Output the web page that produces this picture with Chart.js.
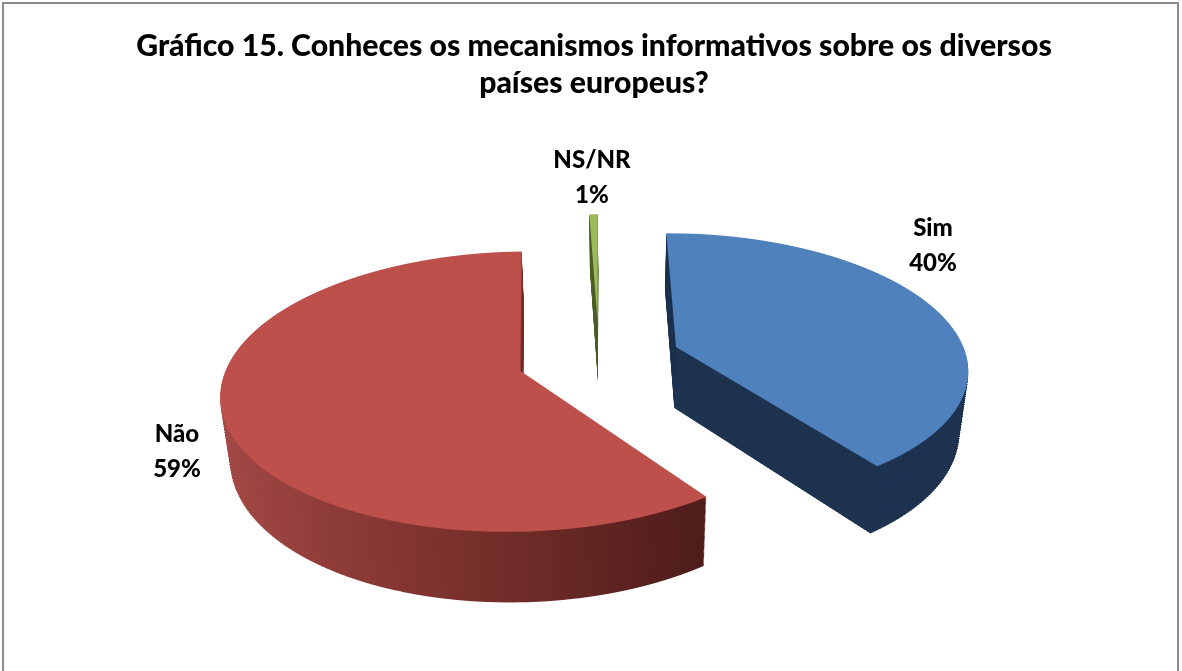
<!DOCTYPE html>
<html>
<head>
<meta charset="utf-8">
<title>Gráfico 15</title>
<script src="https://cdn.jsdelivr.net/npm/chart.js@4/dist/chart.umd.min.js"></script>
<style>
html, body { margin: 0; padding: 0; background: #fff; }
canvas { display: block; }
</style>
</head>
<body>
<canvas id="chart" width="1182" height="671"></canvas>
<script>
const titleLines = ["Gráfico 15. Conheces os mecanismos informativos sobre os diversos", "países europeus?"];
const categories = ["Sim", "Não", "NS/NR"];
// slice sizes, the printed labels are rounded
const sliceValues = [40, 59.45, 0.55];
const percentLabels = ["40%", "59%", "1%"];
const topColors = ["#4f81bd", "#be504c", "#9bbb59"];
const labelSpots = [[933, 246], [177, 452], [592, 178]];

// ground plane -> screen: pie lies flat, then gets a simple perspective
const view = { cx: 599, cy: 358.5, k: 0.459, p: 0.0005, radius: 291, explode: 82 };
// side walls: how far the bottom face moves from the top face
const wall = { depth: 61, grow: 0.052, y0: 347, vx: 610, shrink: 0.026 };

function wallColor(ctx, arc, i) {
  if (i === 0) return "#1e3350";
  if (i === 2) return "#4d5f2a";
  const g = ctx.createLinearGradient(arc.x - 292, 0, arc.x + 190, 0);
  g.addColorStop(0, "#a64a47");
  g.addColorStop(0.45, "#80342f");
  g.addColorStop(1, "#4a1a18");
  return g;
}

function drawLayer(ctx, chart, arcs, t, step, colorOf) {
  const sx = 1 - wall.shrink * t;
  const stretch = 1 + t * wall.grow;
  const shift = t * (wall.depth - wall.grow * wall.y0);
  for (let row = 130; row < 650; row += step) {
    const mid = row + step / 2;
    const u = ((mid - shift) / stretch - view.cy) / view.k;
    const Y = u / (1 + view.p * u);
    const g = 1 / (1 - view.p * Y);
    const dY = view.k * g * g * stretch;
    let open = false;
    arcs.forEach(function (arc, i) {
      const a = (arc.startAngle + arc.endAngle) / 2;
      const fx = Math.cos(a) * view.explode;
      const fy = Math.sin(a) * view.explode;
      if (Math.abs(Y - fy) > view.radius + step) return;
      if (!open) {
        ctx.save();
        ctx.beginPath();
        ctx.rect(0, row, chart.width, step);
        ctx.clip();
        ctx.setTransform(g * sx, 0, 0, dY, wall.vx + (view.cx - wall.vx) * sx, mid - Y * dY);
        open = true;
      }
      const saved = arc.options;
      ctx.save();
      ctx.translate(fx - arc.x, fy - arc.y);
      arc.options = Object.assign({}, saved, { backgroundColor: colorOf(arc, i) });
      arc.draw(ctx);
      arc.options = saved;
      ctx.restore();
    });
    if (open) ctx.restore();
  }
}

const pie3d = {
  id: "pie3d",
  beforeDraw(chart) {
    const ctx = chart.ctx;
    ctx.save();
    ctx.strokeStyle = "#8c8c8c";
    ctx.lineWidth = 2;
    ctx.strokeRect(3, 3, 1175, 720);
    ctx.restore();
  },
  beforeDatasetsDraw(chart) {
    const ctx = chart.ctx;
    const arcs = chart.getDatasetMeta(0).data;
    for (let d = wall.depth; d > 0; d--) {
      drawLayer(ctx, chart, arcs, d / wall.depth, 2, function (arc, i) { return wallColor(ctx, arc, i); });
    }
    drawLayer(ctx, chart, arcs, 0, 1, function (arc, i) { return topColors[i]; });

    ctx.save();
    ctx.fillStyle = "#000";
    ctx.font = "900 24px Lato";
    ctx.textAlign = "center";
    ctx.textBaseline = "middle";
    categories.forEach(function (name, i) {
      ctx.fillText(name, labelSpots[i][0], labelSpots[i][1] - 18);
      ctx.fillText(percentLabels[i], labelSpots[i][0], labelSpots[i][1] + 17);
    });
    ctx.restore();
    return false;
  }
};

new Chart(document.getElementById("chart"), {
  type: "pie",
  data: {
    labels: categories,
    datasets: [{ data: sliceValues, backgroundColor: topColors, borderWidth: 0 }]
  },
  options: {
    responsive: false,
    animation: false,
    radius: view.radius,
    layout: { padding: { top: 18, left: 6 } },
    plugins: {
      legend: { display: false },
      tooltip: { enabled: false },
      title: {
        display: true,
        text: titleLines,
        color: "#000",
        font: { family: "Lato", size: 30.2, weight: "900", lineHeight: 1.22 }
      }
    }
  },
  plugins: [pie3d]
});
</script>
</body>
</html>
